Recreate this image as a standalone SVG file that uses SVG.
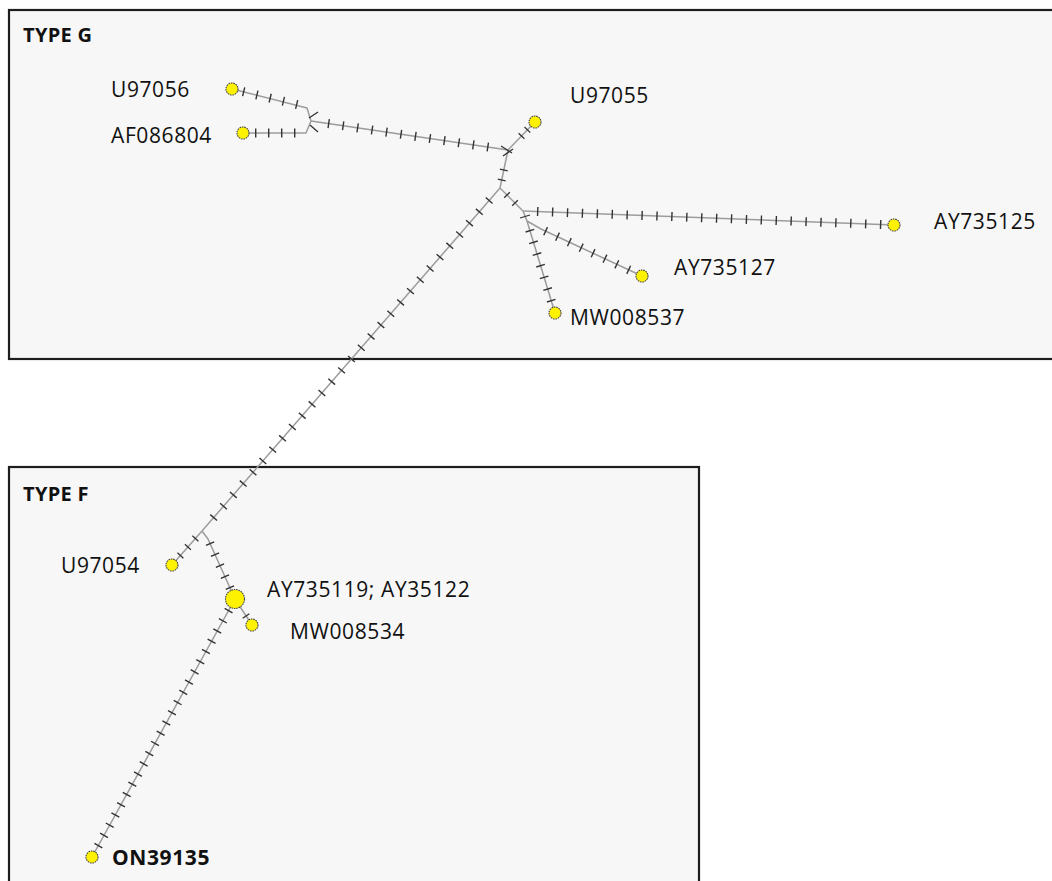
<svg xmlns="http://www.w3.org/2000/svg" width="1052" height="881" viewBox="0 0 1052 881">
<style>
.box{fill:#f7f7f7;stroke:#1e1e1e;stroke-width:2.2}
.edge{fill:none;stroke:#9c9c9c;stroke-width:1.5;stroke-linejoin:round}
.ticks{fill:none;stroke:#333;stroke-width:9}
.tick{stroke:#333;stroke-width:1.3}
.nd{fill:#fff200;stroke:#444;stroke-width:1.1;stroke-dasharray:1.6 0.8}
.lbl{font-family:"Open Sans","Noto Sans","Liberation Sans",sans-serif;font-size:21px;letter-spacing:0.6px;fill:#111}
.b{font-weight:bold}
.ttl{font-family:"Open Sans","Noto Sans","Liberation Sans",sans-serif;font-size:20px;font-weight:bold;letter-spacing:0.3px;fill:#111}
</style>
<rect width="1052" height="881" fill="#ffffff"/>
<g id="boxes">
<rect class="box" x="9" y="10" width="1060" height="349"/>
<rect class="box" x="9" y="467" width="690" height="430"/>
<text class="ttl" x="23" y="42">TYPE G</text>
<text class="ttl" x="23" y="501">TYPE F</text>
</g>
<g id="connectors">
<path class="edge" d="M232,89 L307,108 L311,121"/>
<path class="edge" d="M243,133 L306,133 L311,121"/>
<path class="edge" d="M311,121 L508,150"/>
<path class="edge" d="M508,150 L535,122"/>
<path class="edge" d="M508,150 L500,188"/>
<path class="edge" d="M500,188 L523,211"/>
<path class="edge" d="M523,211 L894,225"/>
<path class="edge" d="M523,211 L527,221"/>
<path class="edge" d="M527,221 L541,229 L642,276"/>
<path class="edge" d="M527,221 L555,313"/>
<path class="edge" d="M500,188 L202,531"/>
<path class="edge" d="M202,531 L172,565"/>
<path class="edge" d="M202,531 L208,539 L235,599"/>
<path class="edge" d="M235,599 L252,625"/>
<path class="edge" d="M235,599 L92,857"/>
<path class="ticks" d="M243,91.6 L297.5,104.65" stroke-dasharray="1.4 12.22"/>
<path class="ticks" d="M255,133 H295.5" stroke-dasharray="1.4 11.6"/>
<path class="ticks" d="M328,123.5 L488.5,147.1" stroke-dasharray="1.4 13.22"/>
<path class="ticks" d="M537,211.5 L881.5,224.5" stroke-dasharray="1.4 13.52"/>
<path class="ticks" d="M545,230.9 L629.4,270.1" stroke-dasharray="1.4 11.68"/>
<path class="ticks" d="M529.7,230 L551.4,301.4" stroke-dasharray="1.4 10.8"/>
<path class="ticks" d="M489.6,200 L213.2,518.1" stroke-dasharray="1.4 13.6"/>
<path class="ticks" d="M209.8,543 L230.2,588.4" stroke-dasharray="1.4 10.66"/>
<path class="ticks" d="M228.9,610 L98,846.3" stroke-dasharray="1.4 10.28"/>
<line class="tick" x1="524.4" y1="138.8" x2="518.6" y2="133.2"/>
<line class="tick" x1="530.3" y1="132.6" x2="524.5" y2="127.0"/>
<line class="tick" x1="499.9" y1="169.2" x2="507.7" y2="170.8"/>
<line class="tick" x1="497.8" y1="179.2" x2="505.6" y2="180.8"/>
<line class="tick" x1="504.2" y1="197.8" x2="509.8" y2="192.2"/>
<line class="tick" x1="512.2" y1="205.8" x2="517.8" y2="200.2"/>
<line class="tick" x1="192.4" y1="535.85" x2="198.4" y2="541.15"/>
<line class="tick" x1="184.9" y1="544.35" x2="190.9" y2="549.65"/>
<line class="tick" x1="177.4" y1="552.85" x2="183.4" y2="558.15"/>
<line class="tick" x1="242.7" y1="618.2" x2="249.3" y2="613.8"/>
<line class="tick" x1="309" y1="118" x2="318" y2="112"/>
<line class="tick" x1="310" y1="125" x2="318" y2="132"/>
<line class="tick" x1="501" y1="146" x2="512" y2="153"/>
<line class="tick" x1="503" y1="156" x2="513" y2="149"/>
<line class="tick" x1="520" y1="218" x2="530" y2="215"/>
</g>
<g id="n-U97056"><circle class="nd" cx="232" cy="89" r="6"/><text class="lbl" x="111" y="97">U97056</text></g>
<g id="n-AF086804"><circle class="nd" cx="243" cy="133" r="6"/><text class="lbl" x="111" y="143">AF086804</text></g>
<g id="n-U97055"><circle class="nd" cx="535" cy="122" r="6"/><text class="lbl" x="570" y="103">U97055</text></g>
<g id="n-AY735125"><circle class="nd" cx="894" cy="225" r="6"/><text class="lbl" x="934" y="229">AY735125</text></g>
<g id="n-AY735127"><circle class="nd" cx="642" cy="276" r="6"/><text class="lbl" x="674" y="275">AY735127</text></g>
<g id="n-MW008537"><circle class="nd" cx="555" cy="313" r="6"/><text class="lbl" x="570" y="325">MW008537</text></g>
<g id="n-U97054"><circle class="nd" cx="172" cy="565" r="6"/><text class="lbl" x="61" y="573">U97054</text></g>
<g id="n-AY735119"><circle class="nd" cx="235" cy="599" r="9.5"/><text class="lbl" x="267" y="597">AY735119; AY35122</text></g>
<g id="n-MW008534"><circle class="nd" cx="252" cy="625" r="6"/><text class="lbl" x="290" y="639">MW008534</text></g>
<g id="n-ON39135"><circle class="nd" cx="92" cy="857" r="6"/><text class="lbl b" x="112" y="865">ON39135</text></g>
</svg>
